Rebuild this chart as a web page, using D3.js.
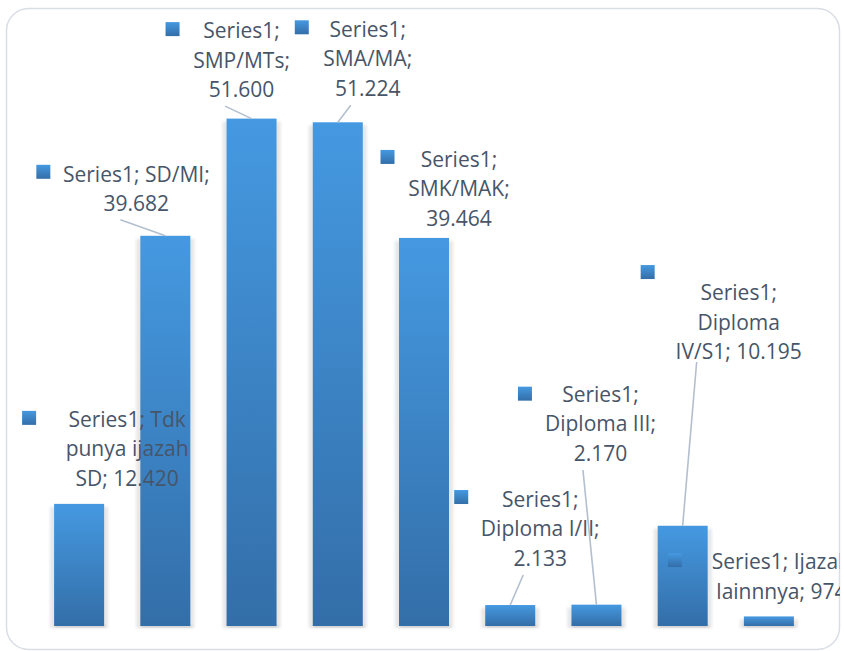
<!DOCTYPE html>
<html>
<head>
<meta charset="utf-8">
<script src="https://cdn.jsdelivr.net/npm/d3@7"></script>
<style>
  html, body { margin: 0; padding: 0; background: #fff; }
  svg { display: block; }
</style>
</head>
<body>
<div id="chart"></div>
<script>
// data
const seriesName = "Series1";
const categories = ["Tdk punya ijazah SD", "SD/MI", "SMP/MTs", "SMA/MA", "SMK/MAK",
                    "Diploma I/II", "Diploma III", "Diploma IV/S1", "Ijazah lainnnya"];
const values = [12420, 39682, 51600, 51224, 39464, 2133, 2170, 10195, 974];
const yDomain = [0, 60000];

// words per line of each data label (manual wrapping as in the original)
const labelLines = [[2, 2, 2], [2, 1], [1, 1, 1], [1, 1, 1], [1, 1, 1], [1, 2, 1], [1, 2, 1], [1, 1, 2], [2, 2]];
// label offsets from the bar anchor (bar centre, bar top): text centre / first baseline, key square, leader start
const labelPos = [
  { dx: 48,  dy: -77,   kx: -57,  ky: -93,   lead: null },
  { dx: -29, dy: -54,   kx: -129, ky: -71,   lead: [-45, -16] },
  { dx: -10, dy: -80.5, kx: -86,  ky: -96.5, lead: [-26.5, -12.5] },
  { dx: 30,  dy: -85.3, kx: -43,  ky: -102,  lead: [13, -17] },
  { dx: 35,  dy: -71.4, kx: -43.5,ky: -88,   lead: null },
  { dx: 30,  dy: -98.5, kx: -56,  ky: -115,  lead: [13, -30] },
  { dx: 4,   dy: -202.7,kx: -78.5,ky: -218,  lead: [-13.5, -134.7] },
  { dx: 56,  dy: -225.7,kx: -42,  ky: -260.7,lead: [14, -163.7] },
  { dx: 12.5,dy: -47.4, kx: -101, ky: -63.4, lead: null }
];

const W = 844, H = 651;
const plot = { left: 36, right: 812, top: 36, bottom: 626 };
const lineH = 29.5;

const fmt = d3.formatLocale({ decimal: ",", thousands: ".", grouping: [3], currency: ["", ""] }).format(",d");

const svg = d3.select("#chart").append("svg")
  .attr("width", W).attr("height", H);

const defs = svg.append("defs");
const grad = defs.append("linearGradient")
  .attr("id", "barGrad").attr("x1", 0).attr("y1", 0).attr("x2", 0).attr("y2", 1);
grad.append("stop").attr("offset", "0%").attr("stop-color", "#4599e1");
grad.append("stop").attr("offset", "100%").attr("stop-color", "#336ea8");

defs.append("filter").attr("id", "shadowBlur")
  .attr("x", "-20%").attr("y", "-20%").attr("width", "140%").attr("height", "140%")
  .append("feGaussianBlur").attr("stdDeviation", 1.6);

defs.append("clipPath").attr("id", "chartClip")
  .append("rect").attr("x", 6).attr("y", 8).attr("width", 834).attr("height", 642).attr("rx", 22);

// chart frame
svg.append("rect")
  .attr("x", 6.5).attr("y", 8.5).attr("width", 833).attr("height", 641)
  .attr("rx", 22)
  .attr("fill", "#fff")
  .attr("stroke", "#d9dde4")
  .attr("stroke-width", 1.5);

const g = svg.append("g").attr("clip-path", "url(#chartClip)");

const x = d3.scaleBand().domain(categories).range([plot.left, plot.right])
  .paddingInner(0.42).paddingOuter(0.21);
const y = d3.scaleLinear().domain(yDomain).range([plot.bottom, plot.top]);

const data = categories.map((c, i) => ({ cat: c, value: values[i], i }));

// soft shadows behind the bars
g.selectAll("rect.shadow").data(data).join("rect")
  .attr("class", "shadow")
  .attr("x", d => x(d.cat) - 4)
  .attr("y", d => y(d.value) + 3)
  .attr("width", x.bandwidth() + 8)
  .attr("height", d => Math.max(0, y(0) - y(d.value) - 1))
  .attr("fill", "#e6e6e6")
  .attr("filter", "url(#shadowBlur)");

g.selectAll("rect.bar-bottom").data(data).join("rect")
  .attr("class", "bar-bottom")
  .attr("x", d => x(d.cat) + 1)
  .attr("y", y(0) - 1)
  .attr("width", x.bandwidth())
  .attr("height", 2.5)
  .attr("fill", "#c8c8c8")
  .attr("filter", "url(#shadowBlur)");

// bars
g.selectAll("rect.bar").data(data).join("rect")
  .attr("class", "bar")
  .attr("x", d => x(d.cat))
  .attr("y", d => y(d.value))
  .attr("width", x.bandwidth())
  .attr("height", d => y(0) - y(d.value))
  .attr("fill", "url(#barGrad)");

// data labels
const anchor = d => [x(d.cat) + x.bandwidth() / 2, y(d.value)];

data.forEach(d => {
  const [ax, ay] = anchor(d);
  const p = labelPos[d.i];

  if (p.lead) {
    g.append("line")
      .attr("x1", ax + p.lead[0]).attr("y1", ay + p.lead[1])
      .attr("x2", ax).attr("y2", ay)
      .attr("stroke", "#b3bfcf")
      .attr("stroke-width", 1.6);
  }

  g.append("rect")
    .attr("x", ax + p.kx).attr("y", ay + p.ky)
    .attr("width", 14).attr("height", 14)
    .attr("fill", "url(#barGrad)");

  const words = `${seriesName}; ${d.cat}; ${fmt(d.value)}`.split(" ");
  const lines = [];
  let k = 0;
  labelLines[d.i].forEach(n => { lines.push(words.slice(k, k + n).join(" ")); k += n; });

  const t = g.append("text")
    .attr("text-anchor", "middle")
    .attr("font-family", "'Open Sans', 'Noto Sans', sans-serif")
    .attr("font-size", "21px")
    .attr("fill", "#475569");
  lines.forEach((ln, j) => {
    t.append("tspan")
      .attr("x", ax + p.dx)
      .attr("y", ay + p.dy + j * lineH)
      .text(ln);
  });
});
</script>
</body>
</html>
